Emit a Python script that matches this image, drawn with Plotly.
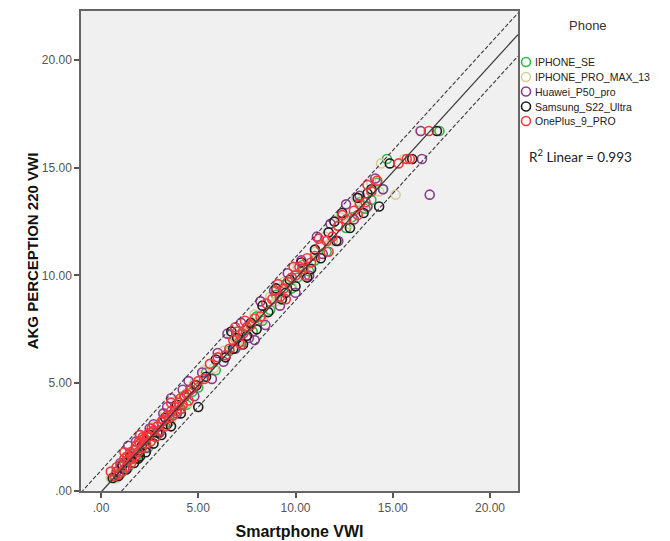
import numpy as np
import plotly.graph_objects as go

# ---------------- data ----------------
phones = ["IPHONE_SE", "IPHONE_PRO_MAX_13", "Huawei_P50_pro", "Samsung_S22_Ultra", "OnePlus_9_PRO"]
colors = ["#2EB848", "#D8CC9A", "#8E3A91", "#1E1E1E", "#F0383C"]

se_x = [0.7, 1.0, 1.2, 1.4, 1.6, 1.8, 2.0, 2.2, 2.4, 2.6, 2.8, 3.0, 3.2, 3.5, 3.8, 4.1, 4.4, 4.7, 5.0, 5.4,
        5.9, 6.6, 6.9, 7.2, 7.5, 7.8, 8.0, 8.3, 8.7, 9.0, 9.3, 9.5, 9.8, 10.1, 10.4, 10.7, 11.0, 11.3, 11.6,
        11.9, 12.2, 12.6, 12.9, 13.3, 13.6, 13.9, 14.2, 14.5, 14.7, 17.4]
se_y = [0.6, 0.8, 1.3, 1.1, 1.7, 1.5, 1.8, 2.4, 2.0, 2.7, 2.5, 2.7, 3.3, 3.2, 3.9, 3.8, 4.0, 4.6, 4.8, 5.5,
        5.6, 6.5, 7.1, 6.9, 7.5, 7.4, 8.1, 7.9, 8.4, 9.1, 8.9, 9.6, 9.4, 9.9, 10.5, 10.2, 10.7, 11.4, 11.1,
        11.6, 12.3, 12.2, 12.7, 13.4, 13.1, 13.5, 14.3, 14.0, 15.4, 16.7]

pro_x = [0.5, 0.8, 1.1, 1.3, 1.6, 1.9, 2.1, 2.4, 2.7, 3.0, 3.3, 3.6, 3.9, 4.2, 4.5, 4.8, 5.3, 5.8, 6.3, 6.7,
         7.0, 7.3, 7.6, 7.9, 8.3, 8.7, 9.0, 9.4, 9.8, 10.1, 10.6, 11.0, 11.5, 11.9, 12.3, 12.7, 13.1, 13.5,
         13.9, 14.3, 14.4, 15.15, 15.6, 16.4]
pro_y = [0.6, 0.6, 1.2, 1.6, 1.4, 2.2, 2.4, 2.1, 3.0, 2.8, 3.6, 3.3, 4.2, 4.4, 4.1, 5.0, 5.6, 5.7, 6.5, 7.2,
         6.9, 7.4, 7.6, 8.2, 8.0, 9.0, 8.8, 9.7, 9.5, 10.4, 10.5, 11.1, 11.8, 11.6, 12.7, 12.4, 13.6, 13.2,
         14.3, 13.9, 15.2, 13.75, 15.4, 16.7]

hw_x = [0.8, 1.0, 1.2, 1.4, 1.6, 1.8, 2.0, 2.3, 2.5, 2.7, 3.0, 3.2, 3.4, 3.6, 3.9, 4.2, 4.5, 4.8, 5.2, 5.7,
        6.0, 6.3, 6.5, 6.9, 7.2, 7.6, 7.9, 8.2, 8.45, 8.9, 9.2, 9.6, 10.0, 10.3, 10.7, 11.1, 11.4, 11.8,
        12.2, 12.6, 13.0, 13.3, 13.7, 14.1, 14.5, 16.5, 16.9, 16.44]
hw_y = [0.9, 1.3, 1.0, 2.1, 1.6, 2.3, 2.6, 2.0, 2.9, 3.1, 2.7, 3.6, 3.9, 4.3, 3.6, 4.7, 5.1, 4.4, 5.5, 5.2,
        6.4, 6.0, 7.3, 6.6, 7.8, 7.1, 7.0, 8.8, 7.7, 9.3, 8.6, 10.1, 9.2, 10.7, 10.0, 11.8, 11.0, 12.4,
        11.6, 13.3, 12.6, 13.7, 13.2, 14.5, 14.0, 15.4, 13.75, 16.7]

ss_x = [0.6, 0.9, 1.1, 1.3, 1.5, 1.7, 1.9, 2.0, 2.1, 2.3, 2.5, 2.7, 2.9, 3.1, 3.3, 3.4, 3.6, 3.9, 4.1, 4.3,
        4.6, 5.0, 4.9, 5.4, 5.9, 6.4, 6.7, 6.8, 7.0, 7.3, 7.5, 7.7, 8.0, 8.3, 8.6, 9.0, 9.3, 9.5, 9.7, 10.0,
        10.3, 10.6, 10.8, 11.0, 11.3, 11.7, 12.0, 12.1, 12.4, 12.8, 13.2, 13.5, 13.7, 13.9, 14.3, 14.85,
        16.0, 17.27]
ss_y = [0.6, 0.7, 1.2, 1.0, 1.6, 1.3, 1.5, 1.6, 2.1, 1.8, 2.6, 2.2, 2.7, 2.6, 3.4, 3.1, 3.0, 4.0, 3.6, 4.4,
        4.7, 3.9, 4.9, 5.3, 6.1, 6.2, 7.4, 6.6, 7.1, 6.8, 7.2, 7.8, 7.5, 8.6, 8.3, 9.4, 8.9, 9.2, 9.8, 9.5,
        10.6, 9.9, 10.3, 11.2, 10.8, 12.0, 12.5, 11.6, 12.9, 12.2, 13.6, 12.9, 13.8, 14.0, 13.2, 15.2,
        15.4, 16.7]

op_x = [0.5, 0.7, 0.8, 0.9, 1.0, 1.1, 1.2, 1.2, 1.3, 1.35, 1.4, 1.5, 1.55, 1.6, 1.7, 1.75, 1.8, 1.9, 1.95,
        2.0, 2.0, 2.1, 2.15, 2.2, 2.3, 2.35, 2.4, 2.5, 2.55, 2.6, 2.7, 2.8, 2.9, 3.0, 3.1, 3.2, 3.3, 3.4,
        3.5, 3.6, 3.6, 3.7, 3.8, 3.9, 4.0, 4.1, 4.1, 4.2, 4.3, 4.4, 4.5, 4.6, 4.8, 5.0, 5.3, 5.6, 6.0, 6.4,
        6.6, 6.8, 6.9, 7.0, 7.1, 7.2, 7.3, 7.4, 7.5, 7.7, 7.9, 8.2, 8.5, 8.8, 9.0, 9.1, 9.2, 9.4, 9.5, 9.6,
        9.8, 9.9, 10.0, 10.2, 10.4, 10.5, 10.6, 10.8, 11.0, 11.2, 11.3, 11.6, 11.7, 11.9, 12.2, 12.4, 12.6,
        13.0, 13.2, 13.3, 13.6, 13.7, 13.9, 14.2, 15.3, 15.72, 15.88, 16.86]
op_y = [0.9, 0.7, 1.1, 0.8, 1.2, 0.9, 1.5, 1.8, 1.1, 1.6, 1.4, 1.8, 1.3, 1.5, 1.9, 1.6, 2.1, 1.8, 2.3,
        2.2, 2.6, 2.0, 2.5, 2.4, 2.2, 2.6, 2.5, 2.7, 2.3, 2.9, 2.8, 2.5, 3.0, 2.8, 3.2, 3.3, 3.0, 3.5,
        3.4, 3.7, 4.1, 3.5, 3.9, 3.7, 4.1, 4.3, 3.8, 4.0, 4.4, 4.5, 4.2, 4.7, 4.9, 5.1, 5.2, 5.9, 6.2, 6.3,
        6.6, 7.0, 7.6, 7.4, 6.9, 6.8, 7.3, 7.9, 7.6, 7.7, 8.0, 8.1, 8.7, 8.9, 9.3, 9.6, 9.0, 9.4, 8.9, 9.7,
        9.9, 10.4, 10.0, 10.4, 10.3, 10.0, 10.8, 10.6, 10.9, 11.7, 11.4, 11.6, 11.1, 11.8, 12.3, 12.8, 12.6,
        13.0, 12.8, 13.3, 13.4, 14.2, 13.9, 14.4, 15.2, 15.4, 15.4, 16.7]

series_x = [se_x, pro_x, hw_x, ss_x, op_x]
series_y = [se_y, pro_y, hw_y, ss_y, op_y]

# fit line and individual prediction band half-width
fit_slope = 0.99
fit_intercept = -0.05
band_half = 1.0
r2_text = "R<sup>2</sup> Linear = 0.993"
legend_title = "Phone"

tick_vals = [0, 5, 10, 15, 20]
tick_text = [".00", "5.00", "10.00", "15.00", "20.00"]
x_range = [-1.03, 21.44]
y_range = [0, 22.27]

# ---------------- layout geometry (pixels) ----------------
W, H = 670, 541
L, R, T, B = 81, 0, 11, 50
plot_w = W - L - R
main_right_px = 518
x_dom_main = [0, (main_right_px - L) / plot_w]
leg_left_px = 520
x_dom_leg = [(leg_left_px - L) / plot_w, 1.0]

# legend rows (pixel positions in the right-hand panel)
leg_marker_x = 526
leg_text_x = 533
leg_rows_y = [62, 77, 91.5, 106.5, 121]
leg_title_xy = (588, 25)
r2_xy = (527, 156)

fig = go.Figure()

for name, col, xs, ys in zip(phones, colors, series_x, series_y):
    fig.add_trace(go.Scatter(
        x=xs, y=ys, mode="markers", name=name, showlegend=False,
        marker=dict(symbol="circle-open", size=9, color=col, line=dict(width=1.6, color=col)),
    ))

line_x = np.array(x_range)
fit_y = fit_slope * line_x + fit_intercept
fig.add_trace(go.Scatter(x=line_x, y=fit_y, mode="lines", showlegend=False, hoverinfo="skip",
                         line=dict(color="#3a3a3a", width=1.3)))
for sgn in (1, -1):
    fig.add_trace(go.Scatter(x=line_x, y=fit_y + sgn * band_half, mode="lines", showlegend=False,
                             hoverinfo="skip", line=dict(color="#3a3a3a", width=1.1, dash="4px,2px")))

# hand-built legend in a side panel (pixel coordinates)
fig.add_trace(go.Scatter(
    x=[leg_marker_x] * len(phones), y=leg_rows_y, mode="markers", xaxis="x2", yaxis="y2",
    showlegend=False, hoverinfo="skip",
    marker=dict(symbol="circle-open", size=9, color=colors, line=dict(width=1.6, color=colors)),
))
for name, yy in zip(phones, leg_rows_y):
    fig.add_annotation(text=name, x=leg_text_x, y=yy, xref="x2", yref="y2", xanchor="left",
                       yanchor="middle", showarrow=False,
                       font=dict(family="Liberation Sans, Arial", size=10.5, color="#222222"))
fig.add_annotation(text=legend_title, x=leg_title_xy[0], y=leg_title_xy[1], xref="x2", yref="y2",
                   xanchor="center", yanchor="middle", showarrow=False,
                   font=dict(family="Liberation Sans, Arial", size=13, color="#333333"))
fig.add_annotation(text=r2_text, x=r2_xy[0], y=r2_xy[1], xref="x2", yref="y2",
                   xanchor="left", yanchor="middle", showarrow=False,
                   font=dict(family="Lato, Open Sans", size=13.5, color="#222222"))

axis_common = dict(
    tickvals=tick_vals, ticktext=tick_text, showgrid=False, zeroline=False,
    showline=True, linecolor="#666666", linewidth=1.5, mirror=True,
    ticks="outside", ticklen=5, tickwidth=1.5, tickcolor="#555555",
    tickfont=dict(family="Liberation Sans, Arial", size=12, color="#555555"),
)

fig.update_layout(
    width=W, height=H,
    margin=dict(l=L, r=R, t=T, b=B, autoexpand=False),
    paper_bgcolor="white", plot_bgcolor="rgba(0,0,0,0)",
    xaxis=dict(domain=x_dom_main, range=x_range, anchor="y",
               title=dict(text="<b>Smartphone VWI</b>", standoff=12,
                          font=dict(family="Liberation Sans, Arial", size=16, color="#111111")),
               **axis_common),
    yaxis=dict(range=y_range, anchor="x",
               title=dict(text="<b>AKG PERCEPTION 220 VWI</b>", standoff=0,
                          font=dict(family="Liberation Sans, Arial", size=15, color="#111111")),
               **axis_common),
    xaxis2=dict(domain=x_dom_leg, range=[leg_left_px, W], anchor="y2", visible=False, fixedrange=True),
    yaxis2=dict(domain=[0, 1], range=[H - B, T], anchor="x2", visible=False, fixedrange=True),
    showlegend=False,
    hovermode=False,
)

# grey plot background only behind the main axes
fig.add_shape(type="rect", xref="x domain", yref="y domain", x0=0, x1=1, y0=0, y1=1,
              fillcolor="#F0F0F0", line=dict(width=0), layer="below")

fig.write_html("out.html", config={"displayModeBar": False},
               post_script="document.body.style.margin='0';document.body.style.overflow='hidden';")
